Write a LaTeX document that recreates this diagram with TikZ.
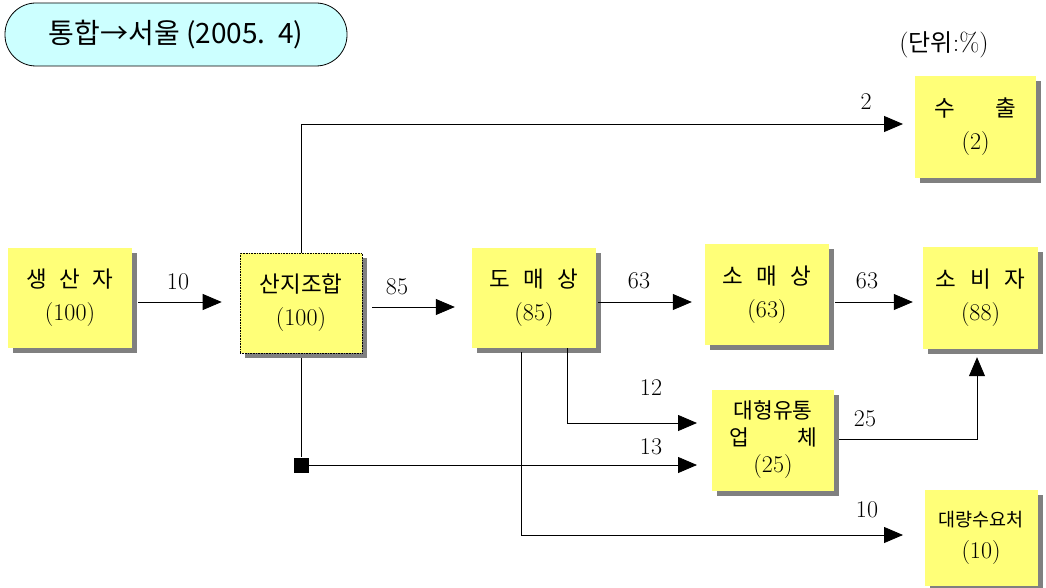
\documentclass[tikz,border=0pt]{standalone}
\usepackage{fontspec}
\newfontfamily\kr{Noto Sans CJK KR}
\usetikzlibrary{arrows.meta,shadows}
\definecolor{boxy}{RGB}{255,255,120}
\definecolor{titlec}{RGB}{204,255,255}
\definecolor{shad}{RGB}{128,128,128}
\tikzset{
  box/.style={fill=boxy, inner sep=0pt, align=center,
    font=\kr\fontsize{22.5}{33}\selectfont,
    general shadow={fill=shad, shadow xshift=5pt, shadow yshift=-5pt}},
  arr/.style={draw=black, line width=0.8pt, -{Triangle[length=19pt,width=16pt]}},
  ln/.style={draw=black, line width=0.8pt},
  lab/.style={font=\fontsize{24}{26}\selectfont, inner sep=0pt}
}
\newcommand{\num}[1]{{\rmfamily\fontsize{24}{26}\selectfont #1}}
\begin{document}
\begin{tikzpicture}[x=1pt,y=-1pt]
\useasboundingbox (0,0) rectangle (1046,588);
% title
\node[draw=black, line width=0.8pt, fill=titlec, rounded corners=31pt, minimum width=342pt, minimum height=63pt,
  font=\kr\fontsize{28}{30}\selectfont, inner sep=0pt] (title) at (176,34.5) {통합→서울 (2005.\ \ 4)};
\node[font=\fontsize{26}{28}\selectfont, inner sep=0pt] (unit) at (944,45) {({\kr\fontsize{24}{28}\selectfont 단위}:\%)};
% boxes
\node[box, minimum width=124pt, minimum height=100pt] (prod) at (70,298) {생\hspace{0.55em}산\hspace{0.55em}자\\\num{(100)}};
\node[box, draw=black, densely dotted, line width=0.6pt, minimum width=122pt, minimum height=100pt] (sanji) at (301,303) {산지조합\\\num{(100)}};
\node[box, minimum width=124pt, minimum height=100pt] (whole) at (534,298) {도\hspace{0.6em}매\hspace{0.6em}상\\\num{(85)}};
\node[box, minimum width=124pt, minimum height=101pt] (retail) at (767,294.5) {소\hspace{0.6em}매\hspace{0.6em}상\\\num{(63)}};
\node[box, minimum width=115pt, minimum height=102pt] (cons) at (980.5,298) {소\hspace{0.6em}비\hspace{0.6em}자\\\num{(88)}};
\node[box, minimum width=121pt, minimum height=102pt] (export) at (975.5,127) {수\hspace{40pt}출\\\num{(2)}};
\node[box, minimum width=122pt, minimum height=101pt, font=\kr\fontsize{21.5}{27}\selectfont] (large) at (773,440)
  {대형유통\\\makebox[88pt][s]{업\hfill 체}\\\num{(25)}};
\node[box, minimum width=113pt, minimum height=96pt, font=\kr\fontsize{18.5}{32}\selectfont] (bulk) at (981,538) {대량수요처\\\num{(10)}};
% junction square
\node[fill=black, minimum size=15pt, inner sep=0pt] (sq) at (301,465) {};
% bend coordinates
\coordinate (b1) at (301,124);
\coordinate (b2) at (567,423);
\coordinate (b3) at (521,535);
\coordinate (b4) at (977,439);
\coordinate (t1) at (903,124);
\coordinate (t2) at (697,423);
\coordinate (t3) at (697,465);
\coordinate (t4) at (903,535);
% main chain
\draw[arr] ([xshift=6pt]prod.east |- 0,302) -- ([xshift=-18pt]sanji.west |- 0,302);
\draw[arr] ([xshift=10pt]sanji.east |- 0,307) -- ([xshift=-17pt]whole.west |- 0,307);
\draw[arr] ([xshift=2pt]whole.east |- 0,302) -- ([xshift=-13pt]retail.west |- 0,302);
\draw[arr] ([xshift=6pt]retail.east |- 0,302) -- ([xshift=-10pt]cons.west |- 0,302);
% sanji up to export
\draw[arr] (sanji.north) -- (b1) -- (t1);
% sanji down to large
\draw[ln] ([yshift=-5pt]sanji.south) -- (sq);
\draw[arr] (sq) -- (t3);
% wholesale to large
\draw[arr] (whole.south -| b2) -- (b2) -- (t2);
% wholesale to bulk
\draw[arr] ([yshift=-4pt]whole.south -| b3) -- (b3) -- (t4);
% large to consumer
\draw[arr] ([xshift=5pt]large.east |- b4) -- (b4) -- ([yshift=-8pt]cons.south -| b4);
% labels
\node[lab] (l1) at (178,282) {10};
\node[lab] (l2) at (397,287) {85};
\node[lab] (l3) at (639,281) {63};
\node[lab] (l4) at (867,281) {63};
\node[lab] (l5) at (866,102) {2};
\node[lab] (l6) at (651,388) {12};
\node[lab] (l7) at (651,447) {13};
\node[lab] (l8) at (867,510) {10};
\node[lab] (l9) at (865,419) {25};
\end{tikzpicture}
\end{document}
